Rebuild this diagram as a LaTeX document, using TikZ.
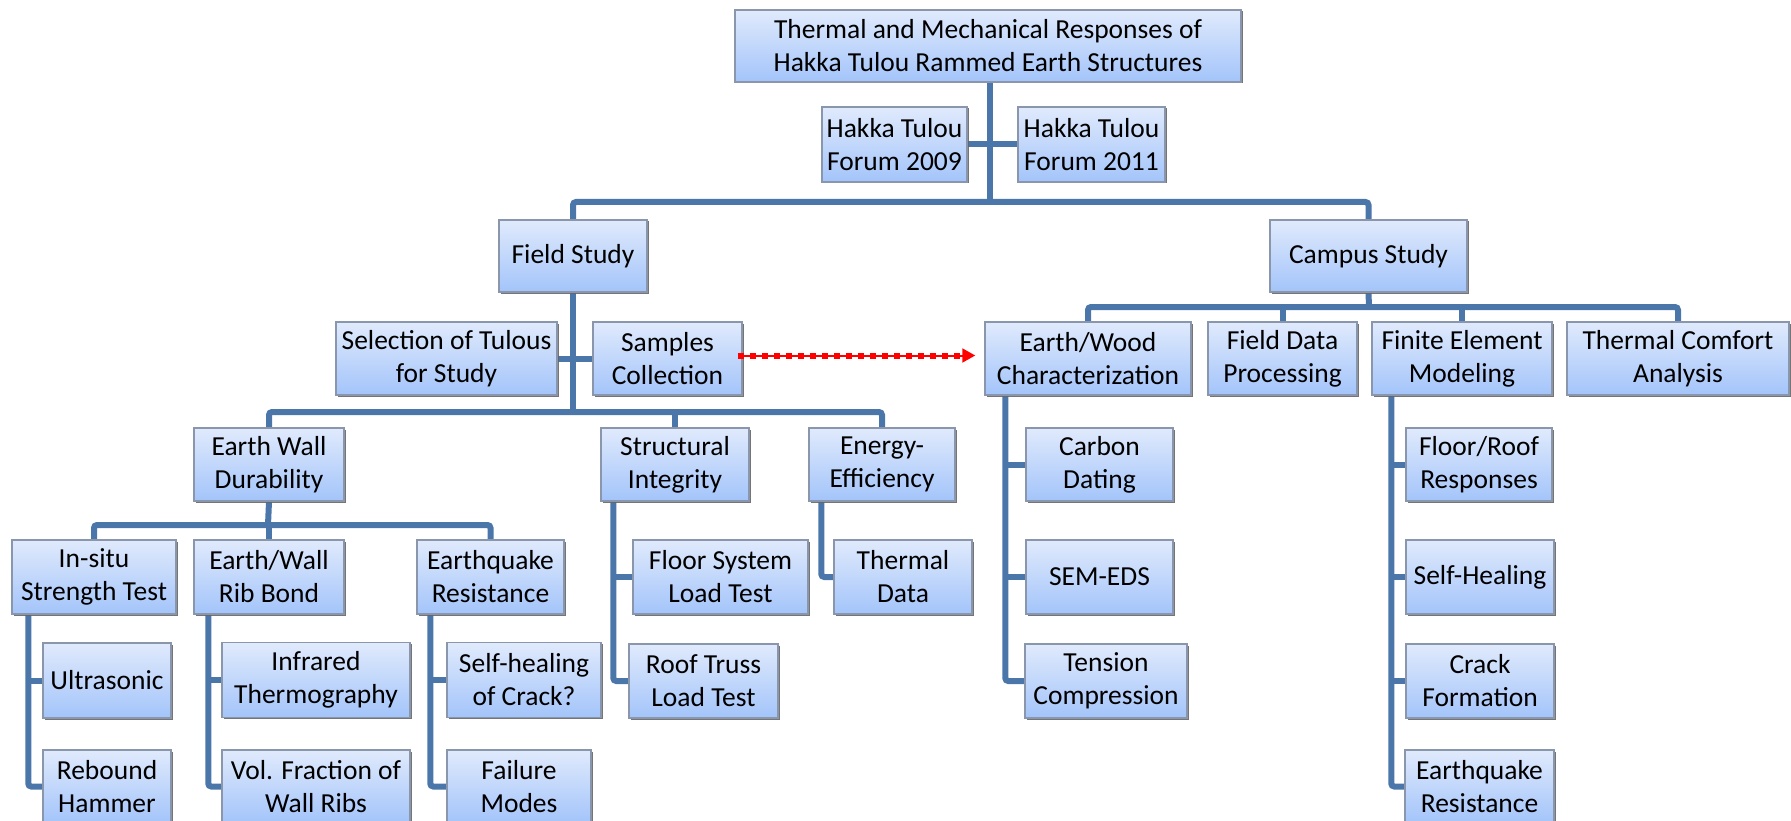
\documentclass[tikz,border=0pt]{standalone}
\usepackage{fontspec}
\setmainfont{Carlito}
\usetikzlibrary{arrows.meta,shadows}
\pgfdeclarelayer{background}
\pgfsetlayers{background,main}
\definecolor{conncol}{RGB}{74,118,170}
\definecolor{boxtop}{RGB}{224,234,252}
\definecolor{boxbot}{RGB}{163,196,250}
\definecolor{boxline}{RGB}{138,150,172}
\tikzset{
  box/.style={rectangle, draw=boxline, line width=1.5pt, top color=boxtop, bottom color=boxbot,
    align=center, inner sep=0pt, font=\fontsize{27.5}{33}\selectfont,
    drop shadow={shadow xshift=1.5pt, shadow yshift=-1.5pt, fill=black!60, opacity=0.9}},
  conn/.style={draw=conncol, line width=6pt, rounded corners=3pt},
  samplearrow/.style={draw=red, line width=2pt, -{Triangle[length=13pt,width=14pt]}, shorten >=9pt,
    postaction={draw=red, -, line width=6pt, dash pattern=on 6pt off 6pt, shorten >=22pt}},
}
\begin{document}
\begin{tikzpicture}[x=1pt,y=-1pt]
\useasboundingbox (0,0) rectangle (1791,821);
% level 0
\node[box, minimum width=506pt, minimum height=72pt] (title) at (988,46) {Thermal and Mechanical Responses of\\Hakka Tulou Rammed Earth Structures};
\node[box, minimum width=145pt, minimum height=75pt] (h09) at (894.5,144.5) {Hakka Tulou\\Forum 2009};
\node[box, minimum width=147pt, minimum height=75pt] (h11) at (1091.5,144.5) {Hakka Tulou\\Forum 2011};
% level 1
\node[box, minimum width=148pt, minimum height=72pt] (fs) at (573,256) {Field Study};
\node[box, minimum width=197pt, minimum height=72pt] (cs) at (1368.5,256) {Campus Study};
% level 2
\node[box, minimum width=221pt, minimum height=73pt] (sel) at (446.5,358.5) {Selection of Tulous\\for Study};
\node[box, minimum width=149pt, minimum height=73pt] (samp) at (667.5,358.5) {Samples\\Collection};
\node[box, minimum width=206pt, minimum height=73pt] (ew) at (1088,358.5) {Earth/Wood\\Characterization};
\node[box, minimum width=149pt, minimum height=73pt] (fd) at (1282.5,358.5) {Field Data\\Processing};
\node[box, minimum width=180pt, minimum height=73pt] (fe) at (1462,358.5) {Finite Element\\Modeling};
\node[box, minimum width=222pt, minimum height=73pt] (tc) at (1678,358.5) {Thermal Comfort\\Analysis};
% level 3
\node[box, minimum width=150pt, minimum height=73pt] (ewd) at (269,464.5) {Earth Wall\\Durability};
\node[box, minimum width=148pt, minimum height=73pt] (si) at (675,464.5) {Structural\\Integrity};
\node[box, minimum width=146pt, minimum height=73pt] (ee) at (882,464.5) {Energy-\\Efficiency};
\node[box, minimum width=147pt, minimum height=73pt] (carbon) at (1099.5,464.5) {Carbon\\Dating};
\node[box, minimum width=146pt, minimum height=73pt] (floorroof) at (1479,464.5) {Floor/Roof\\Responses};
% level 4
\node[box, minimum width=164pt, minimum height=74pt] (insitu) at (94,577) {In-situ\\Strength Test};
\node[box, minimum width=150pt, minimum height=74pt] (rib) at (269,577) {Earth/Wall\\Rib Bond};
\node[box, minimum width=147pt, minimum height=74pt] (eq) at (490.5,577) {Earthquake\\Resistance};
\node[box, minimum width=175pt, minimum height=74pt] (floorsys) at (720.5,577) {Floor System\\Load Test};
\node[box, minimum width=138pt, minimum height=74pt] (thermal) at (903,577) {Thermal\\Data};
\node[box, minimum width=147pt, minimum height=74pt] (sem) at (1099.5,577) {SEM-EDS};
\node[box, minimum width=148pt, minimum height=74pt] (selfheal) at (1480,577) {Self-Healing};
% level 5
\node[box, minimum width=128pt, minimum height=75pt] (ult) at (107,680.5) {Ultrasonic};
\node[box, minimum width=188pt, minimum height=75pt] (infra) at (316,680) {Infrared\\Thermography};
\node[box, minimum width=154pt, minimum height=75pt] (shc) at (524,680) {Self-healing\\of Crack?};
\node[box, minimum width=149pt, minimum height=74pt] (roof) at (703.5,681) {Roof Truss\\Load Test};
\node[box, minimum width=162pt, minimum height=74pt] (tension) at (1106,681) {Tension\\Compression};
\node[box, minimum width=148pt, minimum height=74pt] (crack) at (1480,681) {Crack\\Formation};
% level 6
\node[box, minimum width=128pt, minimum height=73pt] (reb) at (107,786.5) {Rebound\\Hammer};
\node[box, minimum width=188pt, minimum height=73pt] (vol) at (316,786.5) {Vol. Fraction of\\Wall Ribs};
\node[box, minimum width=144pt, minimum height=73pt] (fail) at (519,786.5) {Failure\\Modes};
\node[box, minimum width=149pt, minimum height=73pt] (feq) at (1479.5,786.5) {Earthquake\\Resistance};

% bus and trunk coordinates
\coordinate (b1) at (990,202);
\coordinate (b2) at (573,412);
\coordinate (b3) at (1369,307);
\coordinate (b4) at (268,525);
\coordinate (tA) at ([xshift=17pt]insitu.south west);
\coordinate (tB) at ([xshift=15pt]rib.south west);
\coordinate (tC) at ([xshift=14pt]eq.south west);
\coordinate (tD) at ([xshift=13pt]si.south west);
\coordinate (tE) at ([xshift=13pt]ee.south west);
\coordinate (tF) at ([xshift=21pt]ew.south west);
\coordinate (tG) at ([xshift=20pt]fe.south west);
\coordinate (arrS) at ([xshift=-5pt,yshift=3pt]samp.east);

\begin{pgfonlayer}{background}
% top
\draw[conn] (title.south -| b1) -- (b1);
\draw[conn] (h09.east) -- (h11.west);
\draw[conn] (fs.north) |- (b1) -| (cs.north);
% field study
\draw[conn] (fs.south) -- (b2);
\draw[conn] (sel.east) -- (samp.west);
\draw[conn] (ewd.north) |- (b2) -| (ee.north);
\draw[conn] (si.north) -- (si.north |- b2);
% campus study
\draw[conn] (cs.south) -- (b3);
\draw[conn] (ew.north) |- (b3) -| (tc.north);
\draw[conn] (fd.north) -- (fd.north |- b3);
\draw[conn] (fe.north) -- (fe.north |- b3);
% durability
\draw[conn] (ewd.south) -- (b4);
\draw[conn] (insitu.north) |- (b4) -| (eq.north);
\draw[conn] (rib.north) -- (rib.north |- b4);
% side branches
\draw[conn] (tA) |- (reb.west);
\draw[conn] (ult.west) -- (ult.west -| tA);
\draw[conn] (tB) |- (vol.west);
\draw[conn] (infra.west) -- (infra.west -| tB);
\draw[conn] (tC) |- (fail.west);
\draw[conn] (shc.west) -- (shc.west -| tC);
\draw[conn] (tD) |- (roof.west);
\draw[conn] (floorsys.west) -- (floorsys.west -| tD);
\draw[conn] (tE) |- (thermal.west);
\draw[conn] (tF) |- (tension.west);
\draw[conn] (carbon.west) -- (carbon.west -| tF);
\draw[conn] (sem.west) -- (sem.west -| tF);
\draw[conn] (tG) |- (feq.west);
\draw[conn] (floorroof.west) -- (floorroof.west -| tG);
\draw[conn] (selfheal.west) -- (selfheal.west -| tG);
\draw[conn] (crack.west) -- (crack.west -| tG);
\end{pgfonlayer}

% dotted red arrow
\draw[samplearrow] (arrS) -- (arrS -| ew.west);
\end{tikzpicture}
\end{document}
